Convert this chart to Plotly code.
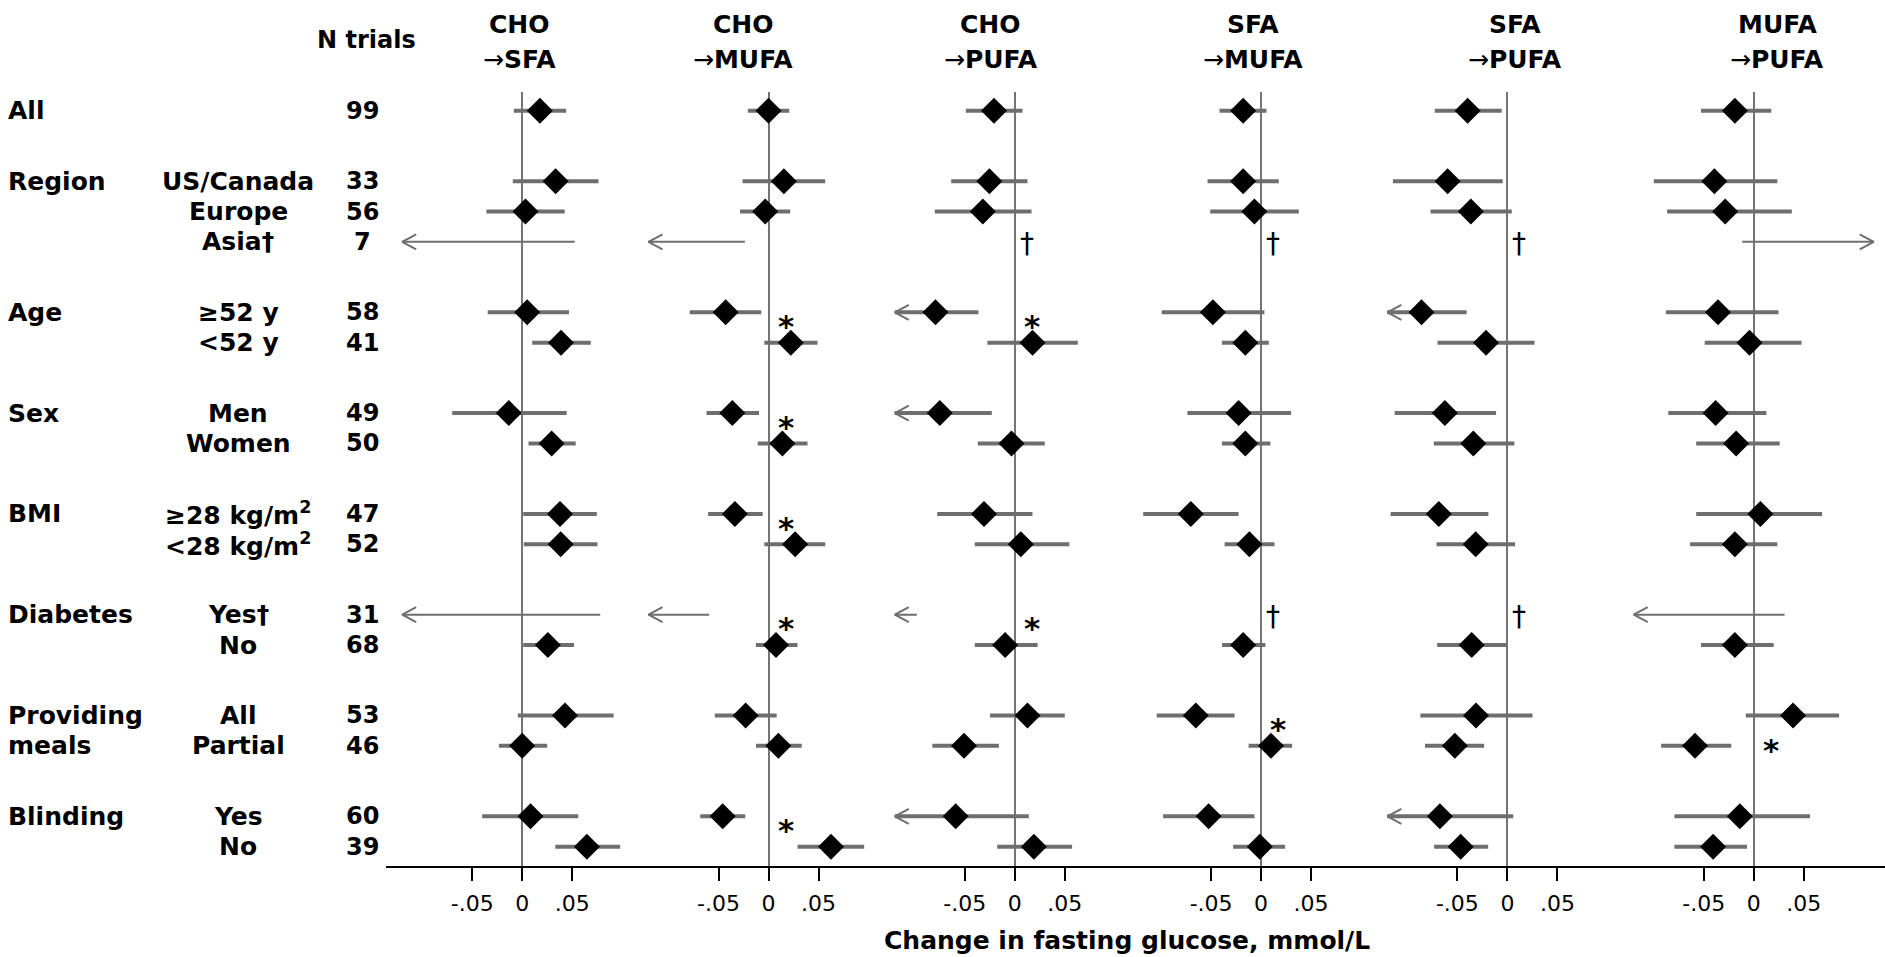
import plotly.graph_objects as go

# ---------------- data ----------------
GROUPS = ["All", "Region", "Age", "Sex", "BMI", "Diabetes", "Providing\nmeals", "Blinding"]
GROUP_SIZES = [1, 3, 2, 2, 2, 2, 2, 2]
SUBGROUPS = ["", "US/Canada", "Europe", "Asia†", "≥52 y", "<52 y", "Men", "Women",
             "≥28 kg/m<sup>2</sup>", "<28 kg/m<sup>2</sup>", "Yes†", "No", "All", "Partial", "Yes", "No"]
N_TRIALS = [99, 33, 56, 7, 58, 41, 49, 50, 47, 52, 31, 68, 53, 46, 60, 39]

PANEL_FROM = ["CHO", "CHO", "CHO", "SFA", "SFA", "MUFA"]
PANEL_TO = ["SFA", "MUFA", "PUFA", "MUFA", "PUFA", "PUFA"]

# Estimates and 95% CI (mmol/L); None = not estimated. CIs cut at the plot limit (±0.12) get an arrow.
EST_CHO_SFA = [0.0177, 0.0334, 0.0033, None, 0.005, 0.0388, -0.0134, 0.0294, 0.0378, 0.0385, None, 0.0257, 0.0428, 0.0, 0.0083, 0.0647]
LO_CHO_SFA = [-0.0084, -0.0094, -0.0358, -0.12, -0.0345, 0.010, -0.070, 0.0063, 0.001, 0.0016, -0.12, 0.001, -0.0044, -0.0233, -0.040, 0.0331]
HI_CHO_SFA = [0.044, 0.0763, 0.0425, 0.0525, 0.0468, 0.0686, 0.0445, 0.0535, 0.0746, 0.0753, 0.078, 0.0518, 0.0914, 0.025, 0.0561, 0.098]

EST_CHO_MUFA = [0.0, 0.0154, -0.0033, None, -0.0428, 0.0223, -0.0362, 0.0139, -0.0336, 0.0266, None, 0.0075, -0.0229, 0.0099, -0.0458, 0.0625]
LO_CHO_MUFA = [-0.0207, -0.026, -0.0285, -0.12, -0.0788, -0.0042, -0.062, -0.0108, -0.0604, -0.0042, -0.12, -0.0126, -0.0537, -0.0125, -0.0683, 0.0291]
HI_CHO_MUFA = [0.0207, 0.0567, 0.0217, -0.0236, -0.0073, 0.049, -0.0095, 0.039, -0.0058, 0.0567, -0.0594, 0.029, 0.0082, 0.0333, -0.0233, 0.0957]

EST_CHO_PUFA = [-0.0208, -0.0254, -0.032, None, -0.0793, 0.0177, -0.075, -0.0033, -0.0308, 0.006, None, -0.0097, 0.0127, -0.0508, -0.0591, 0.0191]
LO_CHO_PUFA = [-0.049, -0.0636, -0.080, None, -0.12, -0.0274, -0.12, -0.037, -0.0776, -0.040, -0.12, -0.040, -0.0248, -0.0825, -0.12, -0.0176]
HI_CHO_PUFA = [0.0077, 0.0127, 0.0167, None, -0.0364, 0.063, -0.023, 0.030, 0.0177, 0.0545, -0.098, 0.0228, 0.050, -0.0159, 0.014, 0.0573]

EST_SFA_MUFA = [-0.018, -0.018, -0.0067, None, -0.0482, -0.0158, -0.0225, -0.0158, -0.0703, -0.0117, None, -0.018, -0.0653, 0.0099, -0.0525, -0.0013]
LO_SFA_MUFA = [-0.0416, -0.0536, -0.0509, None, -0.0994, -0.0392, -0.0737, -0.0392, -0.1179, -0.0365, None, -0.039, -0.1044, -0.0125, -0.098, -0.028]
HI_SFA_MUFA = [0.0054, 0.0177, 0.0377, None, 0.0033, 0.0077, 0.030, 0.0093, -0.0225, 0.0134, None, 0.0043, -0.0265, 0.031, -0.0066, 0.024]

EST_SFA_PUFA = [-0.0398, -0.0598, -0.0365, None, -0.0859, -0.0214, -0.0625, -0.0341, -0.0686, -0.0317, None, -0.0357, -0.0314, -0.0525, -0.0675, -0.0467]
LO_SFA_PUFA = [-0.0726, -0.1145, -0.0769, None, -0.12, -0.0699, -0.1127, -0.0736, -0.1168, -0.0709, None, -0.0703, -0.087, -0.0824, -0.12, -0.0733]
HI_SFA_PUFA = [-0.0057, -0.0047, 0.0044, None, -0.0408, 0.0271, -0.0113, 0.007, -0.019, 0.0077, None, -0.0013, 0.0251, -0.0233, 0.0058, -0.0192]

EST_MUFA_PUFA = [-0.0188, -0.0393, -0.0285, None, -0.0357, -0.0042, -0.0381, -0.0176, 0.0067, -0.0188, None, -0.0188, 0.0393, -0.0587, -0.0139, -0.0406]
LO_MUFA_PUFA = [-0.0527, -0.0999, -0.0866, -0.0115, -0.0878, -0.049, -0.0854, -0.0575, -0.0575, -0.0636, -0.12, -0.0527, -0.0079, -0.0926, -0.0793, -0.0793]
HI_MUFA_PUFA = [0.0176, 0.0236, 0.0381, 0.12, 0.0248, 0.0478, 0.0127, 0.026, 0.0684, 0.0236, 0.0309, 0.02, 0.0854, -0.0224, 0.0563, -0.0067]

# significant interaction markers (panel index, row index)
ASTERISKS = [(1, 4), (2, 4), (1, 6), (1, 8), (1, 10), (2, 10), (3, 12), (5, 13), (1, 14)]

TICK_VALS = [-0.05, 0, 0.05]
TICK_TEXT = ["-.05", "0", ".05"]
X_TITLE = "Change in fasting glucose, mmol/L"
CUT = 0.12

PANELS = [
    (EST_CHO_SFA, LO_CHO_SFA, HI_CHO_SFA),
    (EST_CHO_MUFA, LO_CHO_MUFA, HI_CHO_MUFA),
    (EST_CHO_PUFA, LO_CHO_PUFA, HI_CHO_PUFA),
    (EST_SFA_MUFA, LO_SFA_MUFA, HI_SFA_MUFA),
    (EST_SFA_PUFA, LO_SFA_PUFA, HI_SFA_PUFA),
    (EST_MUFA_PUFA, LO_MUFA_PUFA, HI_MUFA_PUFA),
]

# ---------------- layout constants ----------------
W, H = 1885, 957
FONT = "DejaVu Sans, Verdana, sans-serif"
GREY = "#6e6e6e"
GROUP_GAP = 2.32
PX_TOP, PX_BOTTOM = 91.7, 866.0        # vertical extent of plot area (px)
ROW0_PX, ROW_PX = 110.7, 30.36         # first row centre and row pitch (px)
PANEL_LEFT, PANEL_W = 386.0, 246.3     # px
XMIN, XMAX = -0.1362, 0.1101
PXU = PANEL_W / (XMAX - XMIN)          # px per data unit
ASTER_DX, ASTER_DY = 0.017, 0.45
ASTER_NUDGE = {(5, 13): -0.3}
DAGGER_DX = 0.012

# row positions
ROW_Y = []
pos = 0.0
for gi, size in enumerate(GROUP_SIZES):
    if gi > 0:
        pos += GROUP_GAP - 1
    for k in range(size):
        ROW_Y.append(pos)
        pos += 1
YMIN = (PX_TOP - ROW0_PX) / ROW_PX
YMAX = (PX_BOTTOM - ROW0_PX) / ROW_PX

fig = go.Figure()

AH_DX = 14 / PXU
AH_DY = 7.5 / ROW_PX

annotations = []
for p, (est, lo, hi) in enumerate(PANELS):
    xa = "x" if p == 0 else f"x{p + 1}"
    thick_x, thick_y, thin_x, thin_y, head_x, head_y = [], [], [], [], [], []
    for r, y in enumerate(ROW_Y):
        if lo[r] is None:
            if est[r] is None:
                annotations.append(dict(x=DAGGER_DX, y=y + 0.05, xref=xa, yref="y", text="†",
                                        showarrow=False, font=dict(family=FONT, size=28, color="black"),
                                        xanchor="center", yanchor="middle"))
            continue
        if est[r] is None:
            thin_x += [lo[r], hi[r], None]
            thin_y += [y, y, None]
        else:
            thick_x += [lo[r], hi[r], None]
            thick_y += [y, y, None]
        if lo[r] <= -CUT:
            head_x += [lo[r] + AH_DX, lo[r], lo[r] + AH_DX, None]
            head_y += [y - AH_DY, y, y + AH_DY, None]
        if hi[r] >= CUT:
            head_x += [hi[r] - AH_DX, hi[r], hi[r] - AH_DX, None]
            head_y += [y - AH_DY, y, y + AH_DY, None]
    fig.add_trace(go.Scatter(x=thick_x, y=thick_y, mode="lines", xaxis=xa, yaxis="y",
                             line=dict(color=GREY, width=4), hoverinfo="skip", showlegend=False))
    fig.add_trace(go.Scatter(x=thin_x, y=thin_y, mode="lines", xaxis=xa, yaxis="y",
                             line=dict(color=GREY, width=2), hoverinfo="skip", showlegend=False))
    fig.add_trace(go.Scatter(x=head_x, y=head_y, mode="lines", xaxis=xa, yaxis="y",
                             line=dict(color=GREY, width=2), hoverinfo="skip", showlegend=False))
    ex = [e for e in est if e is not None]
    ey = [ROW_Y[i] for i, e in enumerate(est) if e is not None]
    fig.add_trace(go.Scatter(x=ex, y=ey, mode="markers", xaxis=xa, yaxis="y",
                             marker=dict(symbol="diamond", size=20, color="black"),
                             showlegend=False, name=f"{PANEL_FROM[p]}→{PANEL_TO[p]}"))

    left = PANEL_LEFT + p * PANEL_W
    right = left + PANEL_W if p < 5 else W
    xmax = XMAX if p < 5 else XMIN + (right - left) / PXU
    key = "xaxis" if p == 0 else f"xaxis{p + 1}"
    fig.update_layout(**{key: dict(
        domain=[left / W, right / W], range=[XMIN, xmax], anchor="y",
        showgrid=False, zeroline=True, zerolinecolor="#747474", zerolinewidth=2,
        showline=True, linecolor="black", linewidth=2,
        ticks="outside", ticklen=13, tickwidth=2, tickcolor="black",
        tickvals=TICK_VALS, ticktext=TICK_TEXT, ticklabelstandoff=4,
        tickfont=dict(family=FONT, size=22, color="black"), fixedrange=True)})

# asterisks
for p, r in ASTERISKS:
    xa = "x" if p == 0 else f"x{p + 1}"
    annotations.append(dict(x=ASTER_DX, y=ROW_Y[r] + ASTER_DY + ASTER_NUDGE.get((p, r), 0),
                            xref=xa, yref="y", text="<b>*</b>",
                            showarrow=False, font=dict(family=FONT, size=31, color="black"),
                            xanchor="center", yanchor="middle"))

# panel headers
HEADER_X = [519, 743, 991, 1253, 1515, 1777]
for p in range(6):
    annotations.append(dict(x=HEADER_X[p] / W, y=1 - 24 / H, xref="paper", yref="paper",
                            text=f"<b>{PANEL_FROM[p]}</b>", showarrow=False,
                            font=dict(family=FONT, size=25, color="black"), xanchor="center", yanchor="middle"))
    annotations.append(dict(x=HEADER_X[p] / W, y=1 - 60 / H, xref="paper", yref="paper",
                            text=f"→<b>{PANEL_TO[p]}</b>", showarrow=False,
                            font=dict(family=FONT, size=25, color="black"), xanchor="center", yanchor="middle"))

annotations.append(dict(x=366.5 / W, y=1 - 40 / H, xref="paper", yref="paper", text="<b>N trials</b>",
                        showarrow=False, font=dict(family=FONT, size=24, color="black"),
                        xanchor="center", yanchor="middle"))

# left labels
row = 0
for gi, g in enumerate(GROUPS):
    for k, line in enumerate(g.split("\n")):
        annotations.append(dict(x=6 / W, y=ROW_Y[row + k], xref="paper", yref="y", text=f"<b>{line}</b>",
                                showarrow=False, font=dict(family=FONT, size=25, color="black"),
                                xanchor="left", yanchor="middle"))
    row += GROUP_SIZES[gi]
for r, y in enumerate(ROW_Y):
    if SUBGROUPS[r]:
        annotations.append(dict(x=238 / W, y=y, xref="paper", yref="y", text=f"<b>{SUBGROUPS[r]}</b>",
                                showarrow=False, font=dict(family=FONT, size=25, color="black"),
                                xanchor="center", yanchor="middle"))
    annotations.append(dict(x=362.5 / W, y=y, xref="paper", yref="y", text=f"<b>{N_TRIALS[r]}</b>",
                            showarrow=False, font=dict(family=FONT, size=24, color="black"),
                            xanchor="center", yanchor="middle"))

annotations.append(dict(x=1127 / W, y=1 - 940 / H, xref="paper", yref="paper", text=f"<b>{X_TITLE}</b>",
                        showarrow=False, font=dict(family=FONT, size=25, color="black"),
                        xanchor="center", yanchor="middle"))

fig.update_layout(
    width=W, height=H, margin=dict(l=0, r=0, t=0, b=0),
    paper_bgcolor="white", plot_bgcolor="white",
    yaxis=dict(domain=[1 - PX_BOTTOM / H, 1 - PX_TOP / H], range=[YMAX, YMIN], visible=False, fixedrange=True),
    annotations=annotations, showlegend=False,
)

fig.write_html("out.html", config={"displayModeBar": False},
               post_script="document.body.style.margin='0px';document.body.style.overflow='hidden';")
